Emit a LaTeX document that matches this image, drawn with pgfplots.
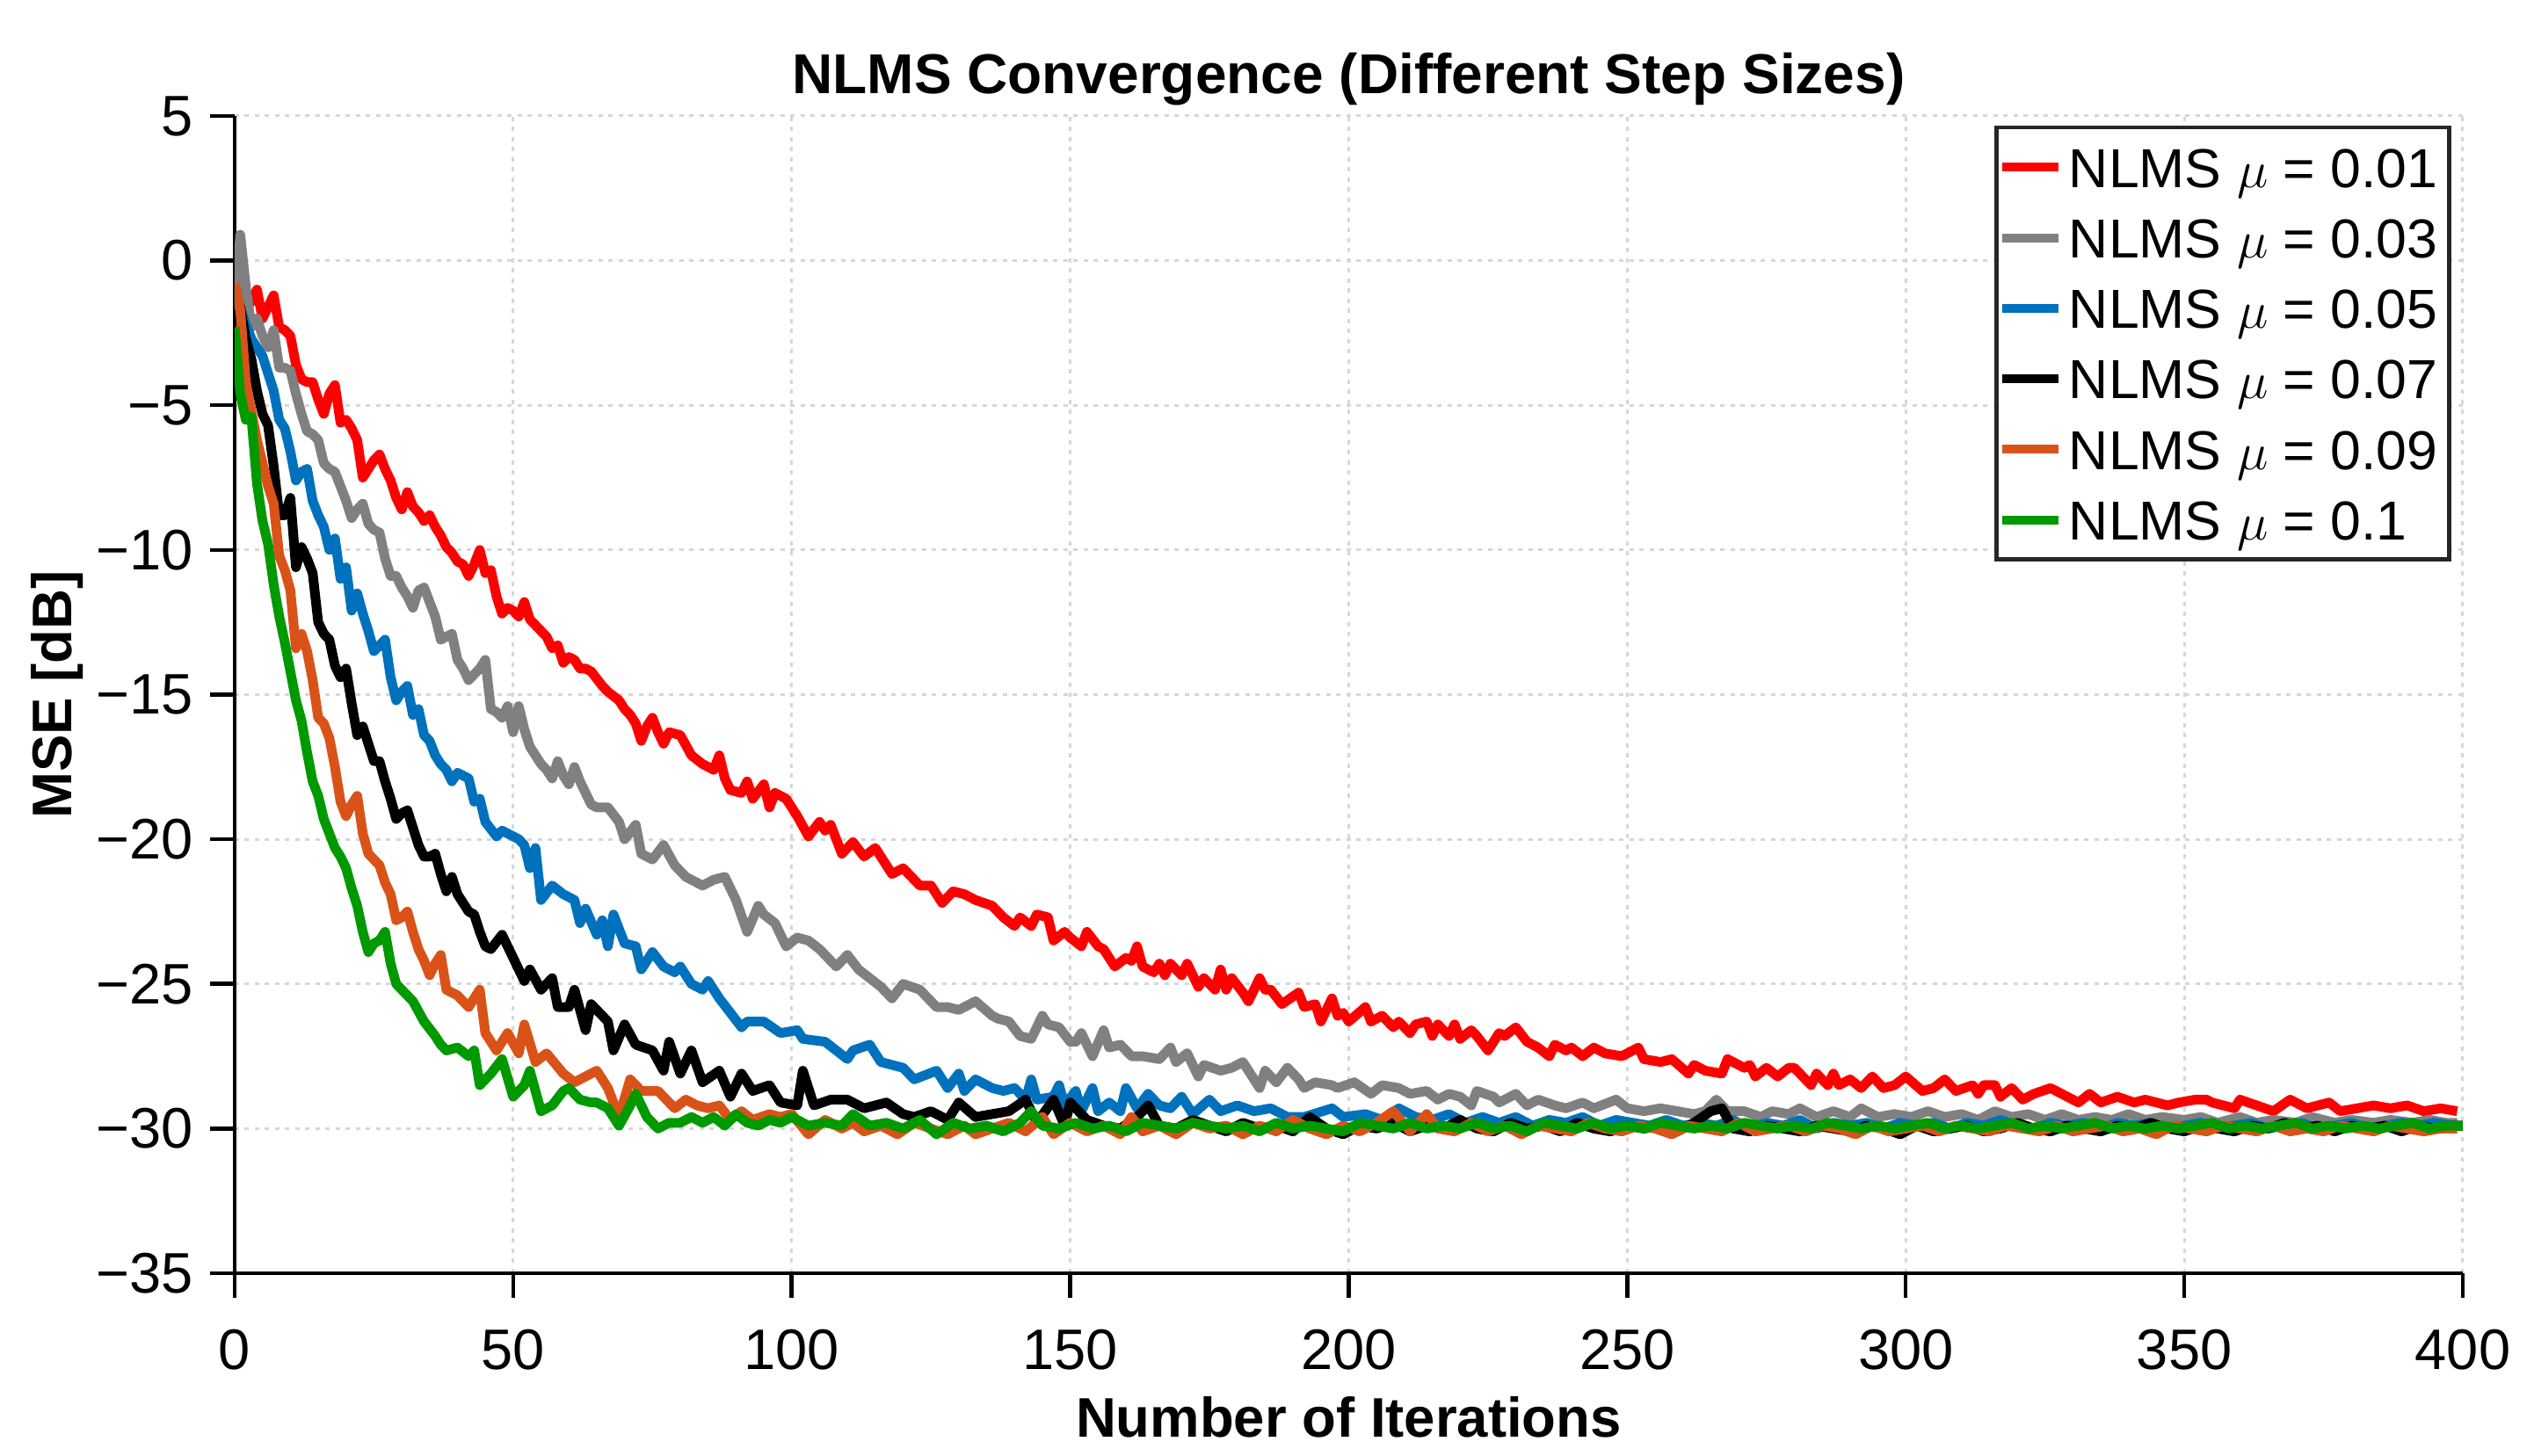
\documentclass[border=0pt]{standalone}
\usepackage{fontspec}
\setmainfont{Liberation Sans}
\usepackage{pgfplots}
\pgfplotsset{compat=1.18}
\definecolor{cRed}{RGB}{255,0,0}
\definecolor{cGray}{RGB}{128,128,128}
\definecolor{cBlue}{RGB}{0,114,189}
\definecolor{cBlack}{RGB}{0,0,0}
\definecolor{cOrange}{RGB}{217,83,25}
\definecolor{cGreen}{RGB}{0,153,0}
\definecolor{cGrid}{RGB}{215,215,215}
\begin{document}
\begin{tikzpicture}
\begin{axis}[
  scale only axis, width=507pt, height=263.4pt,
  xmin=0, xmax=400, ymin=-35, ymax=5,
  axis x line*=bottom, axis y line*=left,
  axis line style={line width=0.9pt, black},
  tick align=outside, major tick length=5.6pt,
  every tick/.style={black, line width=0.9pt},
  xtick={0,50,100,150,200,250,300,350,400},
  xticklabels={0,50,100,150,200,250,300,350,400},
  ytick={-35,-30,-25,-20,-15,-10,-5,0,5},
  yticklabels={−35,−30,−25,−20,−15,−10,−5,0,5},
  xticklabel style={font=\fontsize{13}{15}\selectfont, inner sep=0pt, anchor=north, yshift=-7.0pt},
  yticklabel style={font=\fontsize{13}{15}\selectfont, inner sep=0pt, anchor=east, xshift=-3.6pt},
  grid=major,
  major grid style={color=cGrid, line width=0.6pt, dash pattern=on 1pt off 1.3pt},
  every axis title shift=0pt,
  title={NLMS Convergence (Different Step Sizes)},
  title style={font=\fontsize{12.8}{15}\selectfont\bfseries, at={(axis description cs:0.5,1)}, anchor=base, yshift=5pt, inner sep=0pt},
  xlabel={Number of Iterations},
  xlabel style={font=\fontsize{12.7}{15}\selectfont\bfseries, at={(axis description cs:0.5,0)}, anchor=base, yshift=-37.4pt, inner sep=0pt},
  ylabel={MSE [dB]},
  ylabel style={font=\fontsize{12.7}{15}\selectfont\bfseries, at={([xshift=-37pt]axis description cs:0,0.5)}, anchor=base, inner sep=0pt},
  legend style={at={(rel axis cs:1,1)}, anchor=north east, xshift=-2.6pt, yshift=-2.2pt,
    draw=black!85, line width=0.9pt, fill=white,
    font=\fontsize{12.5}{15}\selectfont,
    inner xsep=0.2pt, inner ysep=1pt, row sep=0pt, column sep=1.5pt,
    nodes={inner sep=0pt, text height=12.6pt, text depth=3.45pt}},
  legend cell align=left,
  legend image code/.code={\draw[#1, line width=2pt] (0pt,0pt) -- (12.8pt,0pt);},
  every axis plot/.append style={line width=2.2pt, line join=round},
]
% mu = 0.01
\addplot[cRed] coordinates {
(0,-0.6)(1,-0.8)(2,-1.7)(3,-1.4)(4,-1.0)(5,-2.0)(6,-1.6)(7,-1.2)(8,-2.3)(9,-2.4)
(10,-2.6)(11,-3.6)(12,-4.1)(13,-4.2)(14,-4.2)(15,-4.8)(16,-5.3)(17,-4.6)(18,-4.3)(19,-5.6)
(20,-5.5)(21,-5.8)(22,-6.2)(23,-7.5)(24,-7.2)(25,-6.9)(26,-6.7)(27,-7.2)(28,-7.6)(29,-8.2)
(30,-8.6)(31,-8.0)(32,-8.5)(33,-8.7)(34,-9.0)(35,-8.8)(36,-9.2)(37,-9.5)(38,-9.9)(39,-10.1)
(40,-10.4)(41,-10.5)(42,-10.9)(43,-10.5)(44,-10.0)(45,-10.8)(46,-10.7)(47,-11.6)(48,-12.2)(49,-12.0)
(50,-12.1)(51,-12.3)(52,-11.8)(53,-12.4)(54,-12.6)(55,-12.8)(56,-13.0)(57,-13.4)(58,-13.3)(59,-13.9)
(60,-13.7)(61,-13.8)(62,-14.1)(63,-14.1)(64,-14.2)(66,-14.7)(67,-14.9)(69,-15.2)(70,-15.5)(71,-15.7)
(72,-16.0)(73,-16.6)(74,-16.1)(75,-15.8)(76,-16.3)(77,-16.7)(78,-16.3)(80,-16.4)(82,-17.1)(84,-17.4)
(86,-17.6)(87,-17.1)(88,-17.9)(89,-18.3)(91,-18.4)(92,-18.0)(93,-18.6)(95,-18.1)(96,-18.9)(97,-18.4)
(99,-18.6)(101,-19.2)(103,-19.9)(105,-19.4)(106,-19.7)(107,-19.5)(109,-20.5)(111,-20.1)(113,-20.6)(115,-20.3)
(118,-21.2)(120,-21.0)(123,-21.6)(125,-21.6)(127,-22.2)(129,-21.8)(131,-21.9)(133,-22.1)(136,-22.3)(138,-22.7)
(140,-23.0)(141,-22.7)(143,-23.0)(144,-22.6)(146,-22.7)(147,-23.5)(149,-23.2)(150,-23.4)(152,-23.7)(153,-23.2)
(155,-23.7)(156,-23.8)(158,-24.4)(160,-24.1)(161,-24.2)(162,-23.7)(163,-24.4)(165,-24.6)(166,-24.3)(167,-24.7)
(168,-24.3)(170,-24.7)(171,-24.3)(173,-25.1)(174,-24.8)(176,-25.2)(177,-24.5)(178,-25.2)(179,-24.8)(181,-25.3)
(182,-25.6)(184,-24.8)(185,-25.2)(186,-25.2)(188,-25.7)(191,-25.3)(192,-25.8)(194,-25.7)(195,-26.3)(197,-25.5)
(198,-26.1)(199,-26.0)(200,-26.3)(203,-25.8)(204,-26.3)(206,-26.1)(208,-26.5)(209,-26.3)(211,-26.7)(212,-26.4)
(214,-26.3)(215,-26.8)(216,-26.4)(218,-26.8)(219,-26.4)(220,-26.9)(222,-26.6)(223,-26.8)(225,-27.3)(227,-26.7)
(228,-26.8)(230,-26.5)(232,-27.0)(234,-27.2)(236,-27.5)(237,-27.1)(239,-27.3)(240,-27.2)(242,-27.5)(244,-27.2)
(246,-27.4)(249,-27.5)(252,-27.2)(253,-27.6)(256,-27.7)(258,-27.6)(261,-28.1)(262,-27.8)(264,-28.0)(267,-28.1)
(268,-27.6)(271,-27.9)(272,-27.8)(273,-28.2)(275,-27.9)(277,-28.2)(279,-27.9)(280,-27.9)(283,-28.5)(284,-28.1)
(286,-28.5)(287,-28.1)(288,-28.5)(290,-28.3)(292,-28.6)(294,-28.2)(296,-28.6)(298,-28.5)(300,-28.2)(303,-28.7)
(305,-28.6)(307,-28.3)(309,-28.7)(312,-28.5)(313,-28.8)(314,-28.5)(316,-28.5)(317,-28.9)(319,-28.6)(321,-29.0)
(323,-28.8)(326,-28.6)(329,-28.9)(331,-29.1)(333,-28.8)(335,-29.1)(338,-28.9)(341,-29.1)(343,-29.0)(347,-29.2)
(349,-29.1)(352,-29.0)(354,-29.0)(355,-29.1)(359,-29.3)(360,-29.0)(363,-29.2)(366,-29.4)(369,-29.0)(372,-29.3)
(376,-29.1)(378,-29.4)(381,-29.3)(384,-29.2)(387,-29.3)(390,-29.2)(393,-29.4)(396,-29.3)(399,-29.4)
};
\addlegendentry{NLMS $\mu$ = 0.01\hspace*{2.5pt}}
% mu = 0.03
\addplot[cGray] coordinates {
(0,-1.7)(1,0.9)(2,-0.9)(3,-2.3)(4,-2.0)(5,-2.6)(6,-3.0)(7,-2.4)(8,-3.7)(9,-3.7)
(10,-3.8)(11,-4.6)(12,-5.3)(13,-5.9)(14,-6.0)(15,-6.2)(16,-7.0)(17,-7.2)(18,-7.3)(19,-7.8)
(20,-8.3)(21,-8.9)(22,-8.6)(23,-8.4)(24,-9.1)(25,-9.3)(26,-9.4)(27,-10.3)(28,-10.9)(29,-10.9)
(30,-11.3)(31,-11.6)(32,-12.0)(33,-11.4)(34,-11.3)(35,-11.8)(36,-12.3)(37,-13.1)(38,-13.0)(39,-12.9)
(40,-13.8)(41,-14.1)(42,-14.5)(43,-14.3)(44,-14.1)(45,-13.8)(46,-15.5)(47,-15.6)(48,-15.8)(49,-15.4)
(50,-16.3)(51,-15.4)(52,-16.2)(53,-16.8)(54,-17.1)(55,-17.4)(56,-17.6)(57,-17.9)(58,-17.3)(59,-17.8)
(60,-18.1)(61,-17.5)(62,-18.0)(63,-18.4)(64,-18.8)(65,-18.9)(67,-18.9)(69,-19.4)(70,-20.0)(72,-19.5)
(73,-20.5)(75,-20.7)(77,-20.2)(79,-20.9)(81,-21.3)(82,-21.4)(84,-21.6)(86,-21.4)(88,-21.3)(90,-22.1)
(92,-23.2)(94,-22.3)(95,-22.6)(97,-22.9)(99,-23.7)(101,-23.4)(103,-23.5)(105,-23.8)(108,-24.4)(110,-24.0)
(112,-24.5)(114,-24.8)(116,-25.1)(118,-25.5)(120,-25.0)(123,-25.2)(126,-25.8)(128,-25.8)(130,-25.9)(133,-25.6)
(136,-26.1)(137,-26.2)(139,-26.3)(141,-26.8)(143,-26.9)(145,-26.1)(146,-26.4)(148,-26.5)(150,-27.0)(151,-27.0)
(152,-26.7)(154,-27.5)(156,-26.6)(157,-27.2)(159,-27.1)(161,-27.5)(163,-27.5)(166,-27.6)(168,-27.2)(169,-27.7)
(171,-27.4)(173,-28.2)(174,-27.8)(177,-28.0)(179,-27.9)(181,-27.7)(182,-28.0)(184,-28.6)(185,-28.0)(187,-28.4)
(189,-27.9)(191,-28.3)(192,-28.6)(194,-28.4)(197,-28.5)(198,-28.6)(201,-28.4)(204,-28.8)(206,-28.5)(209,-28.6)
(211,-28.8)(214,-28.7)(216,-29.0)(218,-28.8)(220,-28.9)(222,-29.2)(223,-28.7)(226,-28.9)(227,-29.1)(230,-28.8)
(232,-29.2)(234,-29.0)(237,-29.2)(239,-29.3)(242,-29.1)(244,-29.3)(248,-29.0)(250,-29.3)(253,-29.4)(256,-29.3)
(259,-29.4)(262,-29.5)(264,-29.4)(266,-29.0)(268,-29.4)(271,-29.4)(274,-29.6)(276,-29.4)(279,-29.5)(281,-29.3)
(284,-29.6)(287,-29.4)(290,-29.6)(292,-29.3)(295,-29.6)(298,-29.5)(301,-29.6)(304,-29.4)(307,-29.6)(310,-29.5)
(313,-29.7)(316,-29.4)(319,-29.6)(322,-29.5)(325,-29.7)(328,-29.5)(331,-29.7)(334,-29.6)(337,-29.7)(340,-29.5)
(343,-29.7)(346,-29.6)(350,-29.7)(353,-29.6)(356,-29.8)(360,-29.6)(363,-29.8)(366,-29.7)(370,-29.8)(373,-29.6)
(377,-29.8)(380,-29.7)(384,-29.8)(387,-29.7)(391,-29.8)(394,-29.7)(397,-29.8)(399,-29.8)
};
\addlegendentry{NLMS $\mu$ = 0.03\hspace*{2.5pt}}
% mu = 0.05
\addplot[cBlue] coordinates {
(0,-1.0)(1,-1.6)(2,-2.2)(3,-2.7)(4,-3.0)(5,-3.3)(6,-3.9)(7,-4.5)(8,-5.5)(9,-5.8)
(10,-6.6)(11,-7.6)(12,-7.3)(13,-7.2)(14,-8.3)(15,-8.8)(16,-9.2)(17,-10.0)(18,-9.6)(19,-11.0)
(20,-10.6)(21,-12.1)(22,-11.5)(23,-12.2)(24,-12.8)(25,-13.5)(26,-13.3)(27,-13.1)(28,-14.4)(29,-15.2)
(30,-14.9)(31,-14.7)(32,-15.7)(33,-15.5)(34,-16.4)(35,-16.6)(36,-17.1)(37,-17.4)(38,-17.6)(39,-18.0)
(40,-17.7)(42,-17.9)(43,-18.7)(44,-18.6)(45,-19.4)(47,-19.9)(48,-19.7)(50,-19.9)(51,-20.0)(52,-20.2)
(53,-21.0)(54,-20.3)(55,-22.1)(57,-21.6)(59,-21.9)(61,-22.1)(62,-22.9)(63,-22.4)(65,-23.3)(66,-22.8)
(67,-23.7)(68,-22.6)(70,-23.6)(72,-23.7)(73,-24.5)(75,-23.9)(77,-24.4)(79,-24.6)(80,-24.4)(82,-25.0)
(84,-25.2)(85,-24.9)(87,-25.5)(89,-26.0)(91,-26.5)(92,-26.3)(95,-26.3)(98,-26.7)(101,-26.6)(102,-26.9)
(106,-27.0)(110,-27.6)(111,-27.3)(114,-27.1)(116,-27.7)(120,-27.9)(122,-28.3)(126,-28.0)(128,-28.6)(130,-28.1)
(131,-28.7)(133,-28.3)(136,-28.6)(138,-28.7)(140,-28.6)(142,-29.0)(143,-28.3)(144,-29.0)(147,-28.9)(148,-28.5)
(149,-29.2)(151,-28.7)(152,-29.4)(154,-28.6)(155,-29.4)(157,-29.1)(159,-29.4)(160,-28.6)(162,-29.3)(164,-28.8)
(166,-29.2)(168,-29.3)(170,-28.9)(172,-29.5)(175,-29.0)(177,-29.4)(180,-29.2)(183,-29.4)(186,-29.3)(189,-29.6)
(192,-29.6)(197,-29.3)(199,-29.6)(203,-29.5)(206,-29.7)(209,-29.3)(212,-29.6)(215,-29.7)(218,-29.5)(221,-29.8)
(224,-29.6)(227,-29.8)(230,-29.6)(233,-29.9)(236,-29.7)(239,-29.8)(242,-29.6)(245,-29.9)(248,-29.7)(251,-29.8)
(254,-29.9)(257,-29.7)(260,-29.9)(263,-29.8)(266,-29.9)(269,-29.7)(272,-30.0)(275,-29.8)(278,-29.9)(281,-29.7)
(284,-30.0)(287,-29.8)(290,-29.9)(293,-29.8)(296,-30.0)(299,-29.8)(302,-29.9)(305,-29.8)(308,-30.0)(311,-29.8)
(314,-29.9)(317,-29.7)(320,-29.9)(323,-30.0)(326,-29.8)(329,-29.9)(332,-29.8)(335,-30.0)(338,-29.8)(341,-29.9)
(344,-29.8)(347,-30.0)(350,-29.9)(353,-29.8)(356,-30.0)(359,-29.9)(362,-29.8)(365,-30.0)(368,-29.9)(371,-29.8)
(374,-30.0)(377,-29.9)(380,-29.8)(383,-30.0)(386,-29.9)(389,-29.8)(392,-29.9)(395,-29.8)(398,-29.9)(400,-29.9)
};
\addlegendentry{NLMS $\mu$ = 0.05\hspace*{2.5pt}}
% mu = 0.07
\addplot[cBlack] coordinates {
(0,-1.4)(1,-1.6)(2,-2.7)(3,-3.4)(4,-4.5)(5,-5.3)(6,-5.7)(7,-7.1)(8,-8.8)(9,-8.8)
(10,-8.2)(11,-10.6)(12,-9.9)(13,-10.3)(14,-10.8)(15,-12.5)(16,-12.9)(17,-13.1)(18,-14.0)(19,-14.4)
(20,-14.1)(21,-15.3)(22,-16.4)(23,-16.1)(24,-16.7)(25,-17.3)(26,-17.3)(27,-18.0)(28,-18.6)(29,-19.3)
(30,-19.1)(31,-19.0)(32,-19.6)(33,-20.2)(34,-20.6)(35,-20.6)(36,-20.5)(37,-21.2)(38,-21.8)(39,-21.3)
(40,-21.9)(42,-22.5)(43,-22.6)(44,-23.2)(45,-23.7)(46,-23.8)(48,-23.3)(50,-24.1)(51,-24.5)(52,-24.9)
(53,-24.5)(55,-25.2)(57,-24.8)(58,-25.8)(60,-25.8)(61,-25.2)(63,-26.6)(64,-25.7)(67,-26.3)(68,-27.3)
(70,-26.4)(72,-27.1)(75,-27.3)(77,-28.0)(78,-27.0)(80,-28.1)(82,-27.3)(84,-28.4)(87,-28.0)(89,-28.9)
(91,-28.1)(93,-28.7)(96,-28.5)(98,-29.1)(101,-29.2)(102,-28.0)(104,-29.2)(107,-29.0)(110,-29.0)(113,-29.3)
(117,-29.1)(120,-29.5)(122,-29.6)(125,-29.4)(128,-29.7)(130,-29.1)(133,-29.6)(136,-29.5)(139,-29.4)(142,-29.0)
(144,-29.8)(147,-29.0)(149,-29.9)(150,-29.1)(153,-29.7)(156,-29.9)(159,-30.0)(162,-29.6)(164,-29.2)(166,-29.9)
(169,-30.0)(172,-29.7)(175,-29.9)(178,-30.1)(181,-29.8)(184,-30.0)(187,-29.9)(190,-30.1)(193,-29.6)(196,-30.0)
(199,-30.2)(202,-29.9)(205,-30.0)(208,-29.8)(211,-30.1)(214,-29.9)(217,-30.0)(220,-29.7)(223,-30.0)(226,-30.1)
(229,-29.8)(232,-30.0)(235,-29.9)(238,-30.1)(241,-29.8)(244,-30.0)(247,-30.1)(250,-29.9)(253,-30.0)(256,-29.9)
(259,-30.1)(262,-29.8)(265,-29.4)(267,-29.3)(269,-30.0)(272,-30.1)(275,-29.9)(278,-30.0)(281,-30.1)(284,-29.9)
(287,-30.0)(290,-30.1)(293,-29.9)(296,-30.0)(299,-30.2)(302,-29.9)(305,-30.1)(308,-30.0)(311,-29.9)(314,-30.1)
(317,-30.0)(320,-29.8)(323,-30.0)(326,-30.1)(329,-29.9)(332,-30.0)(335,-30.1)(338,-29.9)(341,-30.0)(344,-29.8)
(347,-30.0)(350,-30.1)(353,-29.9)(356,-30.0)(359,-30.1)(362,-29.9)(365,-30.0)(368,-29.8)(371,-30.0)(374,-29.9)
(377,-30.1)(380,-29.9)(383,-30.0)(386,-29.9)(389,-30.1)(392,-29.9)(395,-30.0)(398,-29.9)(400,-29.9)
};
\addlegendentry{NLMS $\mu$ = 0.07\hspace*{2.5pt}}
% mu = 0.09
\addplot[cOrange] coordinates {
(0,-0.8)(1,-1.7)(2,-4.2)(3,-5.2)(4,-6.2)(5,-7.0)(6,-7.8)(7,-8.4)(8,-10.2)(9,-10.7)
(10,-11.4)(11,-13.4)(12,-12.9)(13,-13.5)(14,-14.5)(15,-15.8)(16,-16.0)(17,-16.5)(18,-17.5)(19,-18.7)
(20,-19.2)(21,-18.8)(22,-18.5)(23,-19.8)(24,-20.5)(25,-20.7)(26,-20.9)(27,-21.5)(28,-21.9)(29,-22.8)
(30,-22.7)(31,-22.5)(32,-23.2)(33,-23.8)(34,-24.2)(35,-24.7)(36,-24.3)(37,-24.0)(38,-25.2)(39,-25.3)
(40,-25.4)(42,-25.8)(44,-25.2)(45,-26.7)(47,-27.3)(49,-26.7)(51,-27.4)(52,-26.4)(54,-27.7)(56,-27.4)
(59,-28.1)(61,-28.4)(63,-28.2)(65,-28.0)(67,-28.6)(69,-29.6)(71,-28.3)(73,-28.7)(76,-28.7)(79,-29.3)
(81,-29.0)(83,-29.2)(85,-29.3)(87,-29.2)(89,-29.7)(91,-29.4)(93,-29.7)(96,-29.5)(98,-29.6)(100,-29.5)
(103,-30.2)(106,-29.7)(109,-30.0)(111,-29.8)(113,-30.1)(116,-29.9)(119,-30.2)(122,-29.8)(125,-30.0)(128,-30.2)
(131,-29.9)(133,-30.2)(136,-30.0)(139,-29.8)(142,-30.1)(145,-29.6)(147,-30.2)(150,-29.8)(153,-30.1)(156,-29.9)
(159,-30.2)(161,-29.6)(163,-30.1)(166,-29.9)(169,-30.2)(172,-29.8)(175,-30.0)(178,-29.9)(181,-30.2)(184,-29.9)
(187,-30.1)(190,-29.7)(193,-30.0)(196,-30.2)(199,-29.9)(202,-30.1)(205,-29.8)(208,-29.4)(211,-30.1)(214,-29.5)
(216,-30.0)(219,-30.1)(222,-29.8)(225,-30.1)(228,-29.9)(231,-30.2)(234,-29.9)(237,-30.0)(240,-30.1)(243,-29.8)
(246,-30.0)(249,-30.1)(252,-29.9)(255,-30.0)(258,-30.2)(261,-29.9)(264,-30.0)(267,-30.1)(270,-29.8)(273,-30.1)
(276,-30.0)(279,-29.9)(282,-30.1)(285,-29.9)(288,-30.0)(291,-30.2)(294,-29.9)(297,-30.1)(300,-30.0)(303,-29.9)
(306,-30.1)(309,-29.9)(312,-30.0)(315,-30.1)(318,-29.9)(321,-30.0)(324,-30.1)(327,-29.9)(330,-30.1)(333,-30.0)
(336,-29.9)(339,-30.1)(342,-30.0)(345,-30.2)(348,-29.9)(351,-30.0)(354,-30.1)(357,-29.9)(360,-30.0)(363,-30.1)
(366,-29.9)(369,-30.1)(372,-30.0)(375,-30.1)(378,-29.9)(381,-30.0)(384,-30.1)(387,-29.9)(390,-30.0)(393,-30.1)
(396,-30.0)(399,-30.0)
};
\addlegendentry{NLMS $\mu$ = 0.09\hspace*{2.5pt}}
% mu = 0.1
\addplot[cGreen] coordinates {
(0,-2.3)(1,-4.6)(2,-5.5)(3,-5.4)(4,-7.7)(5,-9.0)(6,-9.8)(7,-11.2)(8,-12.3)(9,-13.2)
(10,-14.2)(11,-15.2)(12,-15.9)(13,-17.0)(14,-18.0)(15,-18.5)(16,-19.3)(17,-19.8)(18,-20.3)(19,-20.6)
(20,-21.0)(21,-21.7)(22,-22.3)(23,-23.2)(24,-23.9)(25,-23.6)(26,-23.5)(27,-23.2)(28,-24.3)(29,-25.0)
(30,-25.2)(31,-25.4)(32,-25.6)(34,-26.3)(36,-26.8)(37,-27.1)(38,-27.3)(40,-27.2)(42,-27.5)(43,-27.3)
(44,-28.5)(46,-28.1)(48,-27.6)(50,-28.9)(52,-28.5)(53,-28.0)(55,-29.4)(57,-29.2)(59,-28.7)(60,-28.6)
(62,-29.0)(64,-29.1)(65,-29.1)(67,-29.3)(69,-29.9)(71,-29.2)(72,-28.8)(74,-29.6)(76,-30.0)(78,-29.8)
(80,-29.8)(82,-29.6)(84,-29.8)(86,-29.6)(88,-29.9)(90,-29.5)(92,-29.8)(94,-29.9)(96,-29.7)(98,-29.8)
(100,-29.6)(103,-29.9)(106,-29.8)(109,-29.9)(111,-29.5)(114,-29.9)(117,-29.8)(120,-30.0)(123,-29.7)(126,-30.2)
(129,-29.8)(132,-30.0)(135,-29.9)(138,-30.1)(141,-29.8)(143,-29.4)(145,-29.9)(148,-30.0)(151,-29.8)(154,-30.0)
(157,-29.9)(160,-30.1)(163,-29.8)(166,-29.9)(169,-30.0)(172,-29.8)(175,-29.9)(178,-30.0)(181,-29.9)(184,-30.1)
(187,-29.8)(190,-30.0)(193,-29.9)(196,-30.0)(199,-30.1)(202,-29.8)(205,-29.9)(208,-30.0)(211,-29.8)(214,-30.0)
(217,-29.9)(220,-30.0)(223,-29.8)(226,-30.0)(229,-29.9)(232,-30.1)(235,-29.8)(238,-29.9)(241,-30.0)(244,-29.8)
(247,-30.0)(250,-29.9)(253,-30.0)(256,-29.8)(259,-29.9)(262,-30.0)(265,-29.9)(268,-30.0)(271,-29.8)(274,-29.9)
(277,-30.0)(280,-29.9)(283,-30.0)(286,-29.8)(289,-29.9)(292,-30.0)(295,-29.9)(298,-30.0)(301,-29.9)(304,-29.8)
(307,-30.0)(310,-29.9)(313,-30.0)(316,-29.9)(319,-29.8)(322,-30.0)(325,-29.9)(328,-30.0)(331,-29.9)(334,-29.8)
(337,-30.0)(340,-29.9)(343,-30.0)(346,-29.9)(349,-30.0)(352,-29.9)(355,-29.8)(358,-30.0)(361,-29.9)(364,-30.0)
(367,-29.9)(370,-29.8)(373,-30.0)(376,-29.9)(379,-30.0)(382,-29.9)(385,-30.0)(388,-29.9)(391,-29.8)(394,-30.0)
(397,-29.9)(400,-29.9)
};
\addlegendentry{NLMS $\mu$ = 0.1\hspace*{2.5pt}}
\end{axis}
\pgfresetboundingbox
\path[use as bounding box] (-53.4pt,-41.6pt) rectangle (523.2pt,289.8pt);
\end{tikzpicture}
\end{document}
